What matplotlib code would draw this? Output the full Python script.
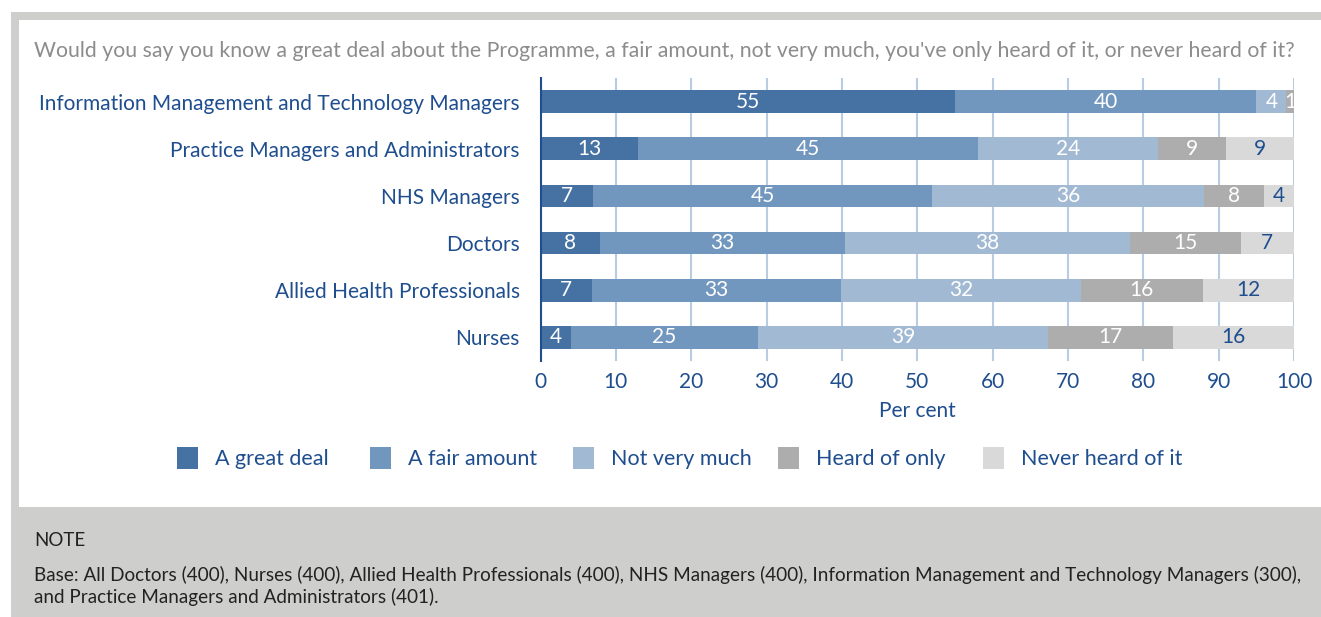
import matplotlib
matplotlib.use("Agg")
import matplotlib.pyplot as plt
from matplotlib.patches import Rectangle
import numpy as np

plt.rcParams['font.family'] = ['Lato', 'DejaVu Sans']

categories = ["Information Management and Technology Managers",
              "Practice Managers and Administrators",
              "NHS Managers",
              "Doctors",
              "Allied Health Professionals",
              "Nurses"]
series_names = ["A great deal", "A fair amount", "Not very much", "Heard of only", "Never heard of it"]
# bar lengths (per cent)
great_deal   = [55, 13, 7, 7.9, 6.8, 4.0]
fair_amount  = [40, 45, 45, 32.5, 33.1, 24.8]
not_very     = [4, 24, 36, 37.8, 31.8, 38.6]
heard_only   = [1, 9, 8, 14.7, 16.2, 16.5]
never_heard  = [0, 9, 4, 7.1, 12.1, 16.1]
# printed value labels
great_deal_lbl  = [55, 13, 7, 8, 7, 4]
fair_amount_lbl = [40, 45, 45, 33, 33, 25]
not_very_lbl    = [4, 24, 36, 38, 32, 39]
heard_only_lbl  = [1, 9, 8, 15, 16, 17]
never_heard_lbl = [0, 9, 4, 7, 12, 16]
x_ticks = [0, 10, 20, 30, 40, 50, 60, 70, 80, 90, 100]

colors = ["#4571a3", "#7297be", "#a2b9d3", "#adadad", "#d9d9d9"]
text_colors = ["white", "white", "white", "white", "#1f4e8f"]
dark_blue = "#1f4e8f"

W, H = 1321, 617
fig = plt.figure(figsize=(W/100, H/100), dpi=100)
fig.patch.set_facecolor("white")

def px_rect(x0, y0, x1, y1, color, z=-10):
    fig.patches.append(Rectangle((x0/W, 1-y1/H), (x1-x0)/W, (y1-y0)/H,
                                 transform=fig.transFigure, facecolor=color,
                                 edgecolor="none", zorder=z))

px_rect(11, 12, W, H, "#cececd")
px_rect(19, 20, W, 507, "white")

ax = fig.add_axes([540.5/W, 1-361/H, (1294-540.5)/W, (361-78)/H])
ax.set_facecolor("none")

data = [great_deal, fair_amount, not_very, heard_only, never_heard]
labels = [great_deal_lbl, fair_amount_lbl, not_very_lbl, heard_only_lbl, never_heard_lbl]
y = np.arange(len(categories))
left = np.zeros(len(categories))
for s, (vals, lbls, col, tc) in enumerate(zip(data, labels, colors, text_colors)):
    vals = np.array(vals, dtype=float)
    ax.barh(y, vals, left=left, height=0.48, color=col, edgecolor="none",
            zorder=3, label=series_names[s])
    for i, (v, l) in enumerate(zip(vals, lbls)):
        if v > 0:
            ax.text(left[i] + v/2, y[i], f"{l}", ha="center", va="center",
                    color=tc, fontsize=15, zorder=4)
    left += vals

ax.set_xlim(0, 100)
ax.set_ylim(len(categories)-0.5, -0.5)
ax.set_xticks(x_ticks)
ax.set_xticklabels([str(t) for t in x_ticks])
ax.set_yticks(y)
ax.set_yticklabels(categories)
ax.tick_params(axis="both", length=0, colors=dark_blue, labelsize=15)
ax.tick_params(axis="y", pad=15)
ax.tick_params(axis="x", pad=8)
ax.xaxis.grid(True, color="#b9cce2", linewidth=1.5, zorder=0)
ax.set_axisbelow(True)
for sp in ["top", "right", "bottom"]:
    ax.spines[sp].set_visible(False)
ax.spines["left"].set_color(dark_blue)
ax.spines["left"].set_linewidth(1.5)
ax.spines["left"].set_zorder(5)

fig.text(917/W, 1-411/H, "Per cent", ha="center", va="center", color=dark_blue, fontsize=15)

fig.text(34/W, 1-51/H,
         "Would you say you know a great deal about the Programme, a fair amount, not very much, you've only heard of it, or never heard of it?",
         ha="left", va="center", color="#8c8c8c", fontsize=15.3)

# legend
sq_x = [177, 370, 573, 778, 983]
for name, col, sx in zip(series_names, colors, sq_x):
    px_rect(sx, 447, sx+21, 469, col, z=5)
    fig.text((sx+38)/W, 1-459/H, name, ha="left", va="center", color=dark_blue, fontsize=15.5)

fig.text(34/W, 1-540/H, "NOTE", ha="left", va="center", color="#222222", fontsize=13.5)
fig.text(34/W, 1-575/H,
         "Base: All Doctors (400), Nurses (400), Allied Health Professionals (400), NHS Managers (400), Information Management and Technology Managers (300),",
         ha="left", va="center", color="#222222", fontsize=13.6)
fig.text(34/W, 1-597/H, "and Practice Managers and Administrators (401).",
         ha="left", va="center", color="#222222", fontsize=13.6)

fig.savefig("out.png", dpi=100)
